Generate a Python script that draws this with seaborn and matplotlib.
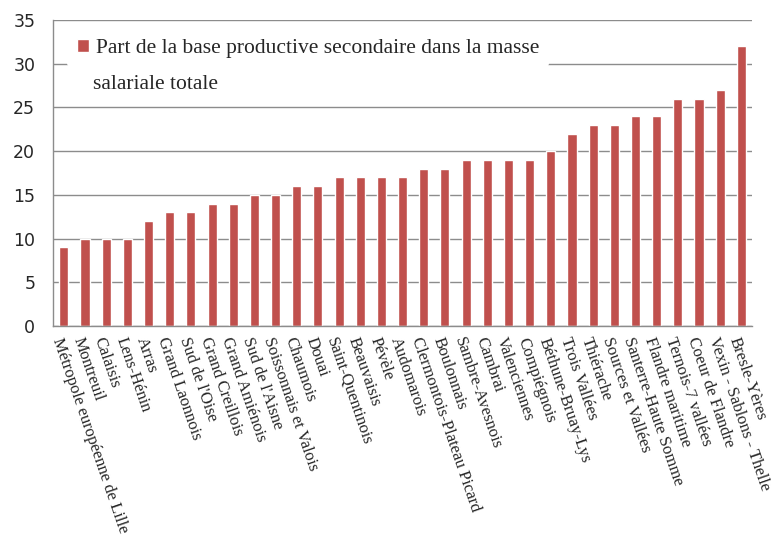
import matplotlib
matplotlib.use("Agg")
import matplotlib.pyplot as plt
import seaborn as sns
import pandas as pd

# ============ DONNÉES ============
territoires = [
    "Métropole européenne de Lille", "Montreuil", "Calaisis", "Lens-Hénin", "Arras",
    "Grand Laonnois", "Sud de l'Oise", "Grand Creillois", "Grand Amiénois", "Sud de l'Aisne",
    "Soissonnais et Valois", "Chaumois", "Douai", "Saint-Quentinois", "Beauvaisis",
    "Pévèle", "Audomarois", "Clermontois-Plateau Picard", "Boulonnais", "Sambre-Avesnois",
    "Cambrai", "Valenciennes", "Compiégnois", "Béthune-Bruay-Lys", "Trois Vallées",
    "Thiérache", "Sources et Vallées", "Santerre-Haute Somme", "Flandre maritime",
    "Ternois-7 vallées", "Coeur de Flandre", "Vexin - Sablons - Thelle", "Bresle-Yères",
]
part_secondaire = [9, 10, 10, 10, 12, 13, 13, 14, 14, 15, 15, 16, 16, 17, 17, 17, 17,
                   18, 18, 19, 19, 19, 19, 20, 22, 23, 23, 24, 24, 26, 26, 27, 32]
serie_l1 = "Part de la base productive secondaire dans la masse"
serie_l2 = "salariale totale"
yticks = [0, 5, 10, 15, 20, 25, 30, 35]

df = pd.DataFrame({"territoire": territoires, "part": part_secondaire})

sns.set_style("white")
plt.rcParams["font.family"] = ["DejaVu Sans"]

fig = plt.figure(figsize=(7.72, 5.44), dpi=100)
ax = fig.add_axes([0.069, 0.401, 0.905, 0.562])

sns.barplot(data=df, x="territoire", y="part", color="#C0504D", saturation=1,
            width=0.43, label=serie_l1, ax=ax)

ax.set_ylim(0, 35)
ax.set_yticks(yticks)
ax.set_xlim(-0.5, len(territoires) - 0.5)
ax.yaxis.grid(True, color="#8c8c8c", lw=1)
ax.set_axisbelow(True)
ax.set_xlabel("")
ax.set_ylabel("")

for s in ["top", "right"]:
    ax.spines[s].set_visible(False)
for s in ["left", "bottom"]:
    ax.spines[s].set_color("#8c8c8c")
    ax.spines[s].set_linewidth(1)

# graduations entre les catégories
ax.set_xticks([i - 0.5 for i in range(len(territoires) + 1)], minor=True)
ax.tick_params(axis="x", which="major", length=0, pad=7)
ax.tick_params(axis="x", which="minor", length=4, color="#8c8c8c", direction="out")
ax.tick_params(axis="y", length=5, color="#8c8c8c", direction="out", labelsize=12.5, pad=8)

ax.set_xticks(range(len(territoires)))
ax.set_xticklabels(territoires, rotation=-71, ha="left", va="top", rotation_mode="anchor",
                   family="Liberation Serif", fontsize=12)

# légende (fond blanc qui masque la grille) + seconde ligne du libellé
leg = ax.legend(loc="center left", bbox_to_anchor=(0.02, 0.908), frameon=True,
                prop={"family": "Liberation Serif", "size": 15.5},
                handlelength=0.55, handleheight=0.55, handletextpad=0.35,
                borderaxespad=0, borderpad=0.45)
leg.get_frame().set_facecolor("white")
leg.get_frame().set_edgecolor("none")
leg.get_frame().set_alpha(1)
leg.set_zorder(5)
ax.text(0.057, 0.79, serie_l2, transform=ax.transAxes, va="center", ha="left",
        family="Liberation Serif", fontsize=15.5, zorder=6)

fig.savefig("out.png", dpi=100)
